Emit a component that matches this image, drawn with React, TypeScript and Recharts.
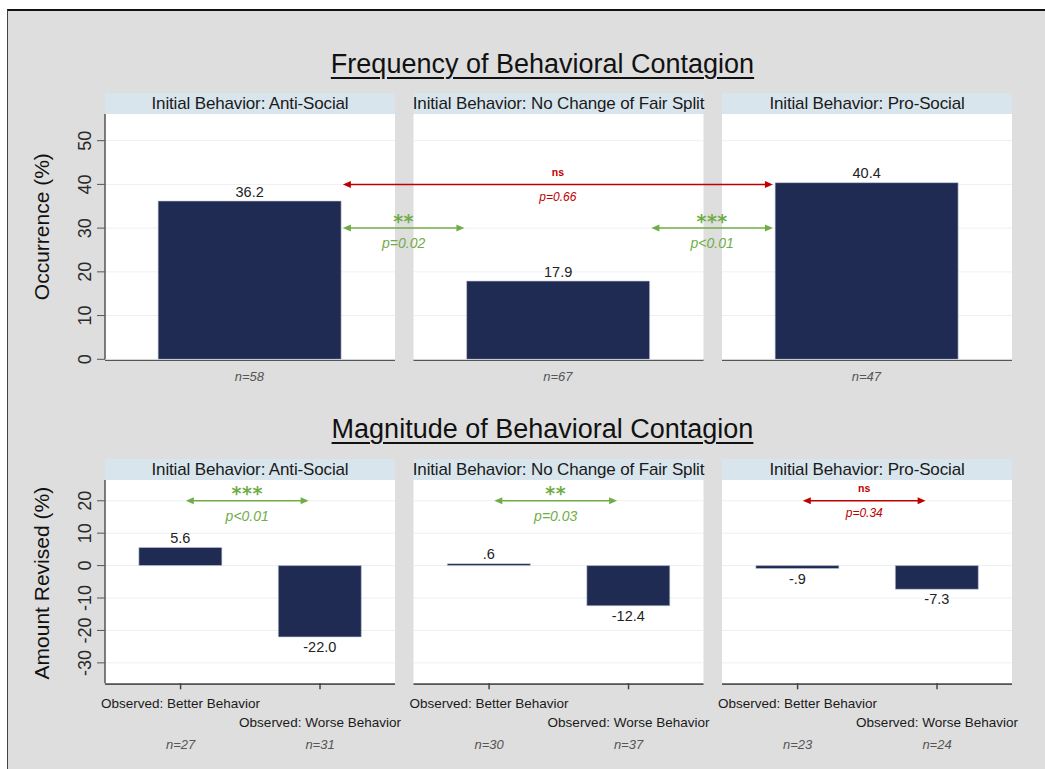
import React from "react";
import {
  Bar,
  BarChart,
  LabelList,
  ReferenceArea,
  ReferenceLine,
  XAxis,
  YAxis,
} from "recharts";

const panelTitles = [
  "Initial Behavior: Anti-Social",
  "Initial Behavior: No Change of Fair Split",
  "Initial Behavior: Pro-Social",
];

// top row: share of subjects who revised (%)
const occurrence = [36.2, 17.9, 40.4];
const occurrenceN = [58, 67, 47];
const occurrenceTicks = [0, 10, 20, 30, 40, 50];

// bottom row: amount revised (%), two groups per panel
const observed = ["Observed: Better Behavior", "Observed: Worse Behavior"];
const revisedBetter = [5.6, 0.6, -0.9];
const revisedWorse = [-22.0, -12.4, -7.3];
const revisedBetterN = [27, 30, 23];
const revisedWorseN = [31, 37, 24];
const revisedTicks = [-30, -20, -10, 0, 10, 20];

// pairwise tests, drawn as double arrows
const occurrenceTests = [
  { from: 0, to: 2, at: 40, mark: "ns", p: "p=0.66" },
  { from: 0, to: 1, at: 30, mark: "**", p: "p=0.02" },
  { from: 1, to: 2, at: 30, mark: "***", p: "p<0.01" },
];
const revisedTests = [
  { panel: 0, at: 20, mark: "***", p: "p<0.01" },
  { panel: 1, at: 20, mark: "**", p: "p=0.03" },
  { panel: 2, at: 20, mark: "ns", p: "p=0.34" },
];

const FONT = '"Liberation Sans", Arial, sans-serif';
const NAVY = "#1f2b53";
const GREEN = "#70ad47";
const RED = "#c00000";
const GRID = "#eaf1f3";

// x runs in panel units: panel k covers [k, k + PANEL_W]
const PANEL_W = 0.94;
const X_MAX = 2 + PANEL_W;
const OCC_AT = 0.468;
const BETTER_AT = 0.245;
const WORSE_AT = 0.697;
const ARROW_GAP = 0.303;
const OCC_DOMAIN = [0, 56.1];
const REV_DOMAIN = [-36.3, 26.4];

const occurrenceData = occurrence.map((value, i) => ({ x: i + OCC_AT, value }));
const revisedData = revisedBetter.flatMap((b, i) => [
  { x: i + BETTER_AT, value: b },
  { x: i + WORSE_AT, value: revisedWorse[i] },
]);

const fmt = (v: number) => v.toFixed(1).replace(/^(-?)0\./, "$1.");

const panelShape = (title: string) => (p: any) => (
  <g>
    <rect x={p.x} y={p.y - 21} width={p.width} height={21} fill="#d9e5ec" />
    <text
      x={p.x + p.width / 2}
      y={p.y - 5.5}
      textAnchor="middle"
      fontSize={17}
      letterSpacing={-0.15}
      fill="#1a1a1a"
    >
      {title}
    </text>
    <rect x={p.x} y={p.y} width={p.width} height={p.height} fill="#fff" />
    <line
      x1={p.x}
      x2={p.x + p.width}
      y1={p.y + p.height + 0.8}
      y2={p.y + p.height + 0.8}
      stroke="#555"
      strokeWidth={1.8}
    />
  </g>
);

const arrowShape = (mark: string, pText: string) => (props: any) => {
  const sig = mark !== "ns";
  const color = sig ? GREEN : RED;
  const xa = Math.min(props.x1, props.x2);
  const xb = Math.max(props.x1, props.x2);
  const y = props.y1;
  const head = 8;
  const half = 3.5;
  const cx = (xa + xb) / 2;
  return (
    <g>
      <line x1={xa + head - 1} x2={xb - head + 1} y1={y} y2={y} stroke={color} strokeWidth={1.5} />
      <polygon points={`${xa},${y} ${xa + head},${y - half} ${xa + head},${y + half}`} fill={color} />
      <polygon points={`${xb},${y} ${xb - head},${y - half} ${xb - head},${y + half}`} fill={color} />
      {sig ? (
        <text
          x={cx}
          y={y - 0.5}
          textAnchor="middle"
          fontFamily="DejaVu Sans"
          fontWeight="bold"
          fontSize={19}
          letterSpacing={0.5}
          fill={color}
        >
          {mark}
        </text>
      ) : (
        <text x={cx} y={y - 8.5} textAnchor="middle" fontSize={10.5} fontWeight="bold" fill={color}>
          {mark}
        </text>
      )}
      <text
        x={cx}
        y={y + (sig ? 20 : 16.5)}
        textAnchor="middle"
        fontStyle="italic"
        fontSize={sig ? 14 : 12}
        fill={color}
      >
        {pText}
      </text>
    </g>
  );
};

const valueLabel = (p: any) => {
  const top = Math.min(p.y, p.y + p.height);
  const bottom = Math.max(p.y, p.y + p.height);
  const v = Number(p.value);
  return (
    <text
      x={p.x + p.width / 2}
      y={v >= 0 ? top - 4.5 : bottom + 15}
      textAnchor="middle"
      fontSize={14.5}
      fill="#222"
    >
      {fmt(v)}
    </text>
  );
};

const yTick = (p: any) => (
  <text
    x={p.x - 4}
    y={p.y}
    transform={`rotate(-90, ${p.x - 4}, ${p.y})`}
    textAnchor="middle"
    fontSize={18}
    fill="#2a2a2a"
  >
    {p.payload.value}
  </text>
);

const yLabel = (text: string, dy: number) => (p: any) => {
  const vb = p.viewBox;
  const cx = vb.x + 14;
  const cy = vb.y + vb.height / 2 + dy;
  return (
    <text x={cx} y={cy} transform={`rotate(-90, ${cx}, ${cy})`} textAnchor="middle" fontSize={21} fill="#111">
      {text}
    </text>
  );
};

const occurrenceTick = (p: any) => {
  const k = Math.floor(p.payload.value);
  return (
    <text x={p.x} y={p.y + 21.4} textAnchor="middle" fontSize={13} fontStyle="italic" fill="#555">
      n={occurrenceN[k]}
    </text>
  );
};

const revisedTick = (p: any) => {
  const v = p.payload.value;
  const k = Math.floor(v);
  const worse = v - k > 0.5;
  const n = worse ? revisedWorseN[k] : revisedBetterN[k];
  return (
    <g>
      <text x={p.x} y={p.y + (worse ? 37.5 : 18.5)} textAnchor="middle" fontSize={13.5} fill="#1a1a1a">
        {observed[worse ? 1 : 0]}
      </text>
      <text x={p.x} y={p.y + 59.5} textAnchor="middle" fontSize={13} fontStyle="italic" fill="#555">
        n={n}
      </text>
    </g>
  );
};

const Title = ({ top, text }: { top: number; text: string }) => (
  <div
    style={{
      position: "absolute",
      left: 0,
      width: 1085,
      top,
      textAlign: "center",
      fontSize: 27,
      lineHeight: "27px",
      color: "#111",
      textDecoration: "underline",
      textDecorationThickness: "2px",
      textUnderlineOffset: "4px",
    }}
  >
    {text}
  </div>
);

export default function App() {
  return (
    <div
      style={{
        position: "absolute",
        left: 0,
        top: 0,
        width: 1045,
        height: 769,
        overflow: "hidden",
        background: "#fff",
        fontFamily: FONT,
      }}
    >
      <div
        style={{
          position: "absolute",
          left: 7,
          top: 9,
          width: 1100,
          height: 800,
          background: "#dedede",
          borderLeft: "1.5px solid #444",
          borderTop: "2px solid #111",
        }}
      />
      <Title top={50.5} text="Frequency of Behavioral Contagion" />
      <Title top={415.5} text="Magnitude of Behavioral Contagion" />

      <div style={{ position: "absolute", left: 0, top: 0 }}>
        <BarChart
          width={1045}
          height={400}
          data={occurrenceData}
          margin={{ top: 114, right: 33, left: 35, bottom: 10.7 }}
        >
          {panelTitles.map((t, k) => (
            <ReferenceArea
              key={t}
              x1={k}
              x2={k + PANEL_W}
              y1={OCC_DOMAIN[0]}
              y2={OCC_DOMAIN[1]}
              ifOverflow="visible"
              shape={panelShape(t)}
              zIndex={50}
            />
          ))}
          {[0, 1, 2].flatMap((k) =>
            occurrenceTicks.map((t) => (
              <ReferenceLine
                key={`g${k}-${t}`}
                segment={[
                  { x: k, y: t },
                  { x: k + PANEL_W, y: t },
                ]}
                stroke={GRID}
                strokeWidth={1}
                ifOverflow="visible"
                zIndex={60}
              />
            ))
          )}
          <Bar
            dataKey="value"
            fill={NAVY}
            stroke="#c5cad6"
            strokeWidth={0.6}
            barSize={183}
            isAnimationActive={false}
          >
            <LabelList dataKey="value" content={valueLabel} />
          </Bar>
          {occurrenceTests.map((t) => (
            <ReferenceLine
              key={`${t.from}-${t.to}`}
              segment={[
                { x: t.from + OCC_AT + ARROW_GAP, y: t.at },
                { x: t.to + OCC_AT - ARROW_GAP, y: t.at },
              ]}
              ifOverflow="visible"
              shape={arrowShape(t.mark, t.p)}
              zIndex={700}
            />
          ))}
          <XAxis
            type="number"
            dataKey="x"
            domain={[0, X_MAX]}
            allowDataOverflow
            ticks={occurrence.map((_, i) => i + OCC_AT)}
            interval={0}
            tick={occurrenceTick}
            tickLine={false}
            axisLine={false}
            tickSize={0}
            tickMargin={0}
            height={30}
          />
          <YAxis
            type="number"
            domain={OCC_DOMAIN}
            allowDataOverflow
            ticks={occurrenceTicks}
            interval={0}
            width={70}
            tick={yTick}
            tickSize={8}
            tickLine={{ stroke: "#555" }}
            axisLine={{ stroke: "#555", strokeWidth: 1.5 }}
            label={yLabel("Occurrence (%)", -10)}
          />
        </BarChart>
      </div>

      <div style={{ position: "absolute", left: 0, top: 400 }}>
        <BarChart
          width={1045}
          height={369}
          data={revisedData}
          margin={{ top: 80, right: 33, left: 35, bottom: 15.7 }}
        >
          {panelTitles.map((t, k) => (
            <ReferenceArea
              key={t}
              x1={k}
              x2={k + PANEL_W}
              y1={REV_DOMAIN[0]}
              y2={REV_DOMAIN[1]}
              ifOverflow="visible"
              shape={panelShape(t)}
              zIndex={50}
            />
          ))}
          {[0, 1, 2].flatMap((k) =>
            revisedTicks.map((t) => (
              <ReferenceLine
                key={`g${k}-${t}`}
                segment={[
                  { x: k, y: t },
                  { x: k + PANEL_W, y: t },
                ]}
                stroke={GRID}
                strokeWidth={1}
                ifOverflow="visible"
                zIndex={60}
              />
            ))
          )}
          <Bar
            dataKey="value"
            fill={NAVY}
            stroke="#c5cad6"
            strokeWidth={0.6}
            barSize={83}
            isAnimationActive={false}
          >
            <LabelList dataKey="value" content={valueLabel} />
          </Bar>
          {revisedTests.map((t) => (
            <ReferenceLine
              key={`r${t.panel}`}
              segment={[
                { x: t.panel + 0.262, y: t.at },
                { x: t.panel + 0.66, y: t.at },
              ]}
              ifOverflow="visible"
              shape={arrowShape(t.mark, t.p)}
              zIndex={700}
            />
          ))}
          <XAxis
            type="number"
            dataKey="x"
            domain={[0, X_MAX]}
            allowDataOverflow
            ticks={revisedData.map((d) => d.x)}
            interval={0}
            tick={revisedTick}
            tickLine={{ stroke: "#444", strokeWidth: 1.5 }}
            axisLine={false}
            tickSize={6}
            tickMargin={0}
            height={70}
          />
          <YAxis
            type="number"
            domain={REV_DOMAIN}
            allowDataOverflow
            ticks={revisedTicks}
            interval={0}
            width={70}
            tick={yTick}
            tickSize={8}
            tickLine={{ stroke: "#555" }}
            axisLine={{ stroke: "#555", strokeWidth: 1.5 }}
            label={yLabel("Amount Revised (%)", 1.5)}
          />
        </BarChart>
      </div>
    </div>
  );
}
